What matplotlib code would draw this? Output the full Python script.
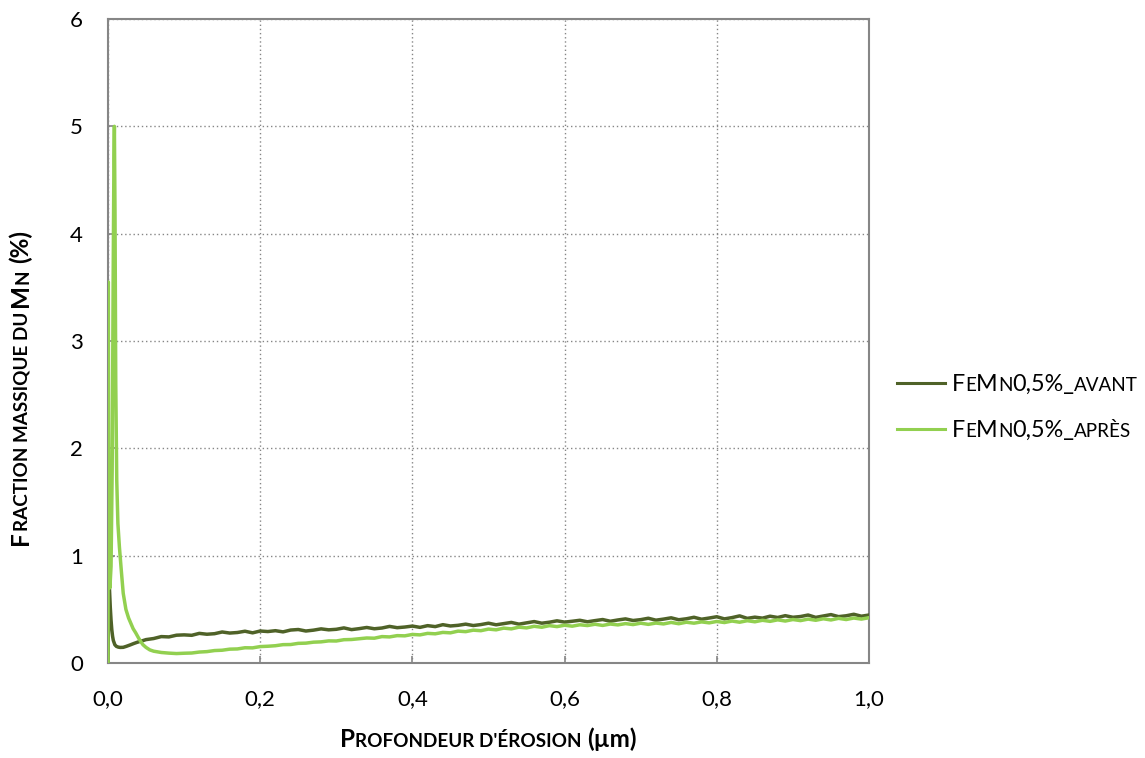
import numpy as np
import matplotlib
matplotlib.use("Agg")
import matplotlib.pyplot as plt
from matplotlib.font_manager import FontProperties
from matplotlib.transforms import IdentityTransform
from matplotlib.lines import Line2D

FONT = "Lato"

# depth (um) and Mn mass fraction (%)
depth_avant_head = [0.0, 0.0005, 0.001, 0.0015, 0.002, 0.003, 0.004, 0.005, 0.006, 0.007,
                    0.009, 0.011, 0.0135, 0.016, 0.020, 0.024, 0.029, 0.034, 0.038, 0.042,
                    0.046, 0.050]
mn_avant_head = [0.0, 0.35, 0.62, 0.75, 0.68, 0.52, 0.40, 0.31, 0.25, 0.21,
                 0.17, 0.155, 0.148, 0.145, 0.146, 0.155, 0.168, 0.182, 0.192, 0.201,
                 0.209, 0.218]

depth_apres_head = [0.0, 0.0004, 0.0008, 0.0015, 0.0025, 0.004, 0.0055, 0.0068, 0.0078, 0.0084,
                    0.0092, 0.0102, 0.0115, 0.013, 0.015, 0.0175, 0.020, 0.0235, 0.027, 0.030,
                    0.033, 0.0365, 0.040, 0.043, 0.046, 0.050, 0.055]
mn_apres_head = [0.0, 3.55, 2.2, 1.1, 0.7, 0.9, 1.8, 3.6, 4.7, 5.0,
                 4.2, 2.6, 1.7, 1.3, 1.08, 0.86, 0.65, 0.50, 0.42, 0.37,
                 0.32, 0.28, 0.235, 0.20, 0.17, 0.145, 0.122]

depth_tail = [0.06, 0.07, 0.08, 0.09, 0.10, 0.11, 0.12, 0.13, 0.14, 0.15,
              0.16, 0.17, 0.18, 0.19, 0.20, 0.21, 0.22, 0.23, 0.24, 0.25,
              0.26, 0.27, 0.28, 0.29, 0.30, 0.31, 0.32, 0.33, 0.34, 0.35,
              0.36, 0.37, 0.38, 0.39, 0.40, 0.41, 0.42, 0.43, 0.44, 0.45,
              0.46, 0.47, 0.48, 0.49, 0.50, 0.51, 0.52, 0.53, 0.54, 0.55,
              0.56, 0.57, 0.58, 0.59, 0.60, 0.61, 0.62, 0.63, 0.64, 0.65,
              0.66, 0.67, 0.68, 0.69, 0.70, 0.71, 0.72, 0.73, 0.74, 0.75,
              0.76, 0.77, 0.78, 0.79, 0.80, 0.81, 0.82, 0.83, 0.84, 0.85,
              0.86, 0.87, 0.88, 0.89, 0.90, 0.91, 0.92, 0.93, 0.94, 0.95,
              0.96, 0.97, 0.98, 0.99, 1.00]

mn_avant_tail = [0.228, 0.246, 0.243, 0.259, 0.262, 0.258, 0.276, 0.268, 0.273, 0.289,
                 0.279, 0.284, 0.296, 0.281, 0.298, 0.293, 0.301, 0.290, 0.307, 0.312,
                 0.298, 0.306, 0.318, 0.309, 0.314, 0.327, 0.311, 0.320, 0.331, 0.319,
                 0.326, 0.341, 0.329, 0.335, 0.344, 0.332, 0.348, 0.339, 0.357, 0.345,
                 0.351, 0.362, 0.349, 0.358, 0.371, 0.356, 0.367, 0.378, 0.362, 0.374,
                 0.386, 0.371, 0.380, 0.393, 0.381, 0.389, 0.398, 0.384, 0.395, 0.405,
                 0.389, 0.401, 0.411, 0.396, 0.404, 0.417, 0.399, 0.409, 0.421, 0.403,
                 0.412, 0.426, 0.408, 0.419, 0.431, 0.411, 0.423, 0.439, 0.416, 0.427,
                 0.418, 0.436, 0.424, 0.441, 0.426, 0.433, 0.447, 0.425, 0.438, 0.451,
                 0.432, 0.440, 0.454, 0.436, 0.447]

mn_apres_tail = [0.110, 0.098, 0.092, 0.088, 0.091, 0.093, 0.102, 0.106, 0.116, 0.119,
                 0.129, 0.131, 0.142, 0.141, 0.153, 0.156, 0.161, 0.171, 0.172, 0.183,
                 0.185, 0.194, 0.197, 0.206, 0.205, 0.217, 0.219, 0.226, 0.233, 0.231,
                 0.246, 0.243, 0.255, 0.253, 0.266, 0.262, 0.276, 0.272, 0.285, 0.281,
                 0.297, 0.292, 0.306, 0.301, 0.316, 0.309, 0.325, 0.318, 0.334, 0.327,
                 0.342, 0.333, 0.348, 0.339, 0.352, 0.343, 0.356, 0.349, 0.361, 0.350,
                 0.363, 0.355, 0.367, 0.358, 0.371, 0.360, 0.372, 0.364, 0.378, 0.366,
                 0.380, 0.371, 0.383, 0.374, 0.387, 0.377, 0.391, 0.380, 0.394, 0.384,
                 0.398, 0.388, 0.402, 0.391, 0.405, 0.395, 0.409, 0.398, 0.412, 0.401,
                 0.416, 0.405, 0.419, 0.409, 0.422]

x_ticks = [0.0, 0.2, 0.4, 0.6, 0.8, 1.0]
x_tick_labels = ["0,0", "0,2", "0,4", "0,6", "0,8", "1,0"]
y_ticks = [0, 1, 2, 3, 4, 5, 6]

c_avant = "#4F6228"
c_apres = "#92D050"
grey = "#868686"

# small caps pieces: (text, is_big)
xlabel_runs = [("P", True), ("ROFONDEUR D'ÉROSION", False), (" (µm)", True)]
ylabel_runs = [("F", True), ("RACTION MASSIQUE DU ", False), ("M", True), ("N", False), (" (%)", True)]
legend_runs = [
    [("F", True), ("E", False), ("M", True), ("N", False), ("0,5%_", True), ("AVANT", False)],
    [("F", True), ("E", False), ("M", True), ("N", False), ("0,5%_", True), ("APRÈS", False)],
]

W, H = 1145, 758
fig = plt.figure(figsize=(W / 100, H / 100), dpi=100)
ax = fig.add_axes([108 / W, 1 - 663 / H, (869 - 108) / W, (663 - 19) / H])

x_avant = np.array(depth_avant_head + depth_tail)
y_avant = np.array(mn_avant_head + mn_avant_tail)
x_apres = np.array(depth_apres_head + depth_tail)
y_apres = np.array(mn_apres_head + mn_apres_tail)

ax.plot(x_avant, y_avant, color=c_avant, lw=2.5, zorder=3)
ax.plot(x_apres, y_apres, color=c_apres, lw=2.5, zorder=4)

ax.set_xlim(0, 1)
ax.set_ylim(0, 6)
ax.set_xticks(x_ticks)
ax.set_xticklabels(x_tick_labels)
ax.set_yticks(y_ticks)
ax.grid(True, color=grey, linestyle=(0, (1, 2)), linewidth=1.0)
ax.set_axisbelow(True)
for s in ax.spines.values():
    s.set_color(grey)
    s.set_linewidth(1.5)
ax.tick_params(direction="in", length=5, width=1.2, color=grey,
               labelsize=16, labelcolor="black")
ax.tick_params(axis="x", pad=19)
ax.tick_params(axis="y", pad=18)
for lab in ax.get_xticklabels() + ax.get_yticklabels():
    lab.set_fontfamily(FONT)

renderer = fig.canvas.get_renderer()


def advance(s, prop):
    w1 = renderer.get_text_width_height_descent("H" + s + "H", prop, ismath=False)[0]
    w0 = renderer.get_text_width_height_descent("HH", prop, ismath=False)[0]
    return w1 - w0


def draw_runs(runs, x0, y0, big, small, weight="normal", rotation=0, center=False):
    props = [FontProperties(family=FONT, size=big if b else small, weight=weight) for _, b in runs]
    widths = [advance(t, p) for (t, _), p in zip(runs, props)]
    pos = -sum(widths) / 2 if center else 0
    for (t, _), p, w in zip(runs, props, widths):
        lead = len(t) - len(t.lstrip(" "))
        off = advance(" " * lead, p) if lead else 0
        if rotation == 0:
            x, y = x0 + pos + off, y0
        else:
            x, y = x0, y0 + pos + off
        fig.text(x, y, t.strip(" "), fontproperties=p, rotation=rotation,
                 rotation_mode="anchor", ha="left", va="baseline",
                 transform=IdentityTransform(), color="black")
        pos += w


draw_runs(xlabel_runs, 488.5, H - 746.7, 17.5, 13.6, weight="bold", center=True)
draw_runs(ylabel_runs, 28, H - 387.5, 17.5, 13.6, weight="bold", rotation=90, center=True)

# legend
for runs, col, ly, by in [(legend_runs[0], c_avant, 383.3, 391),
                          (legend_runs[1], c_apres, 429.3, 437.3)]:
    fig.add_artist(Line2D([897, 945], [H - ly, H - ly], color=col, lw=2.2,
                          transform=IdentityTransform()))
    draw_runs(runs, 952, H - by, 16.8, 13.6)

fig.savefig("out.png", dpi=100)
